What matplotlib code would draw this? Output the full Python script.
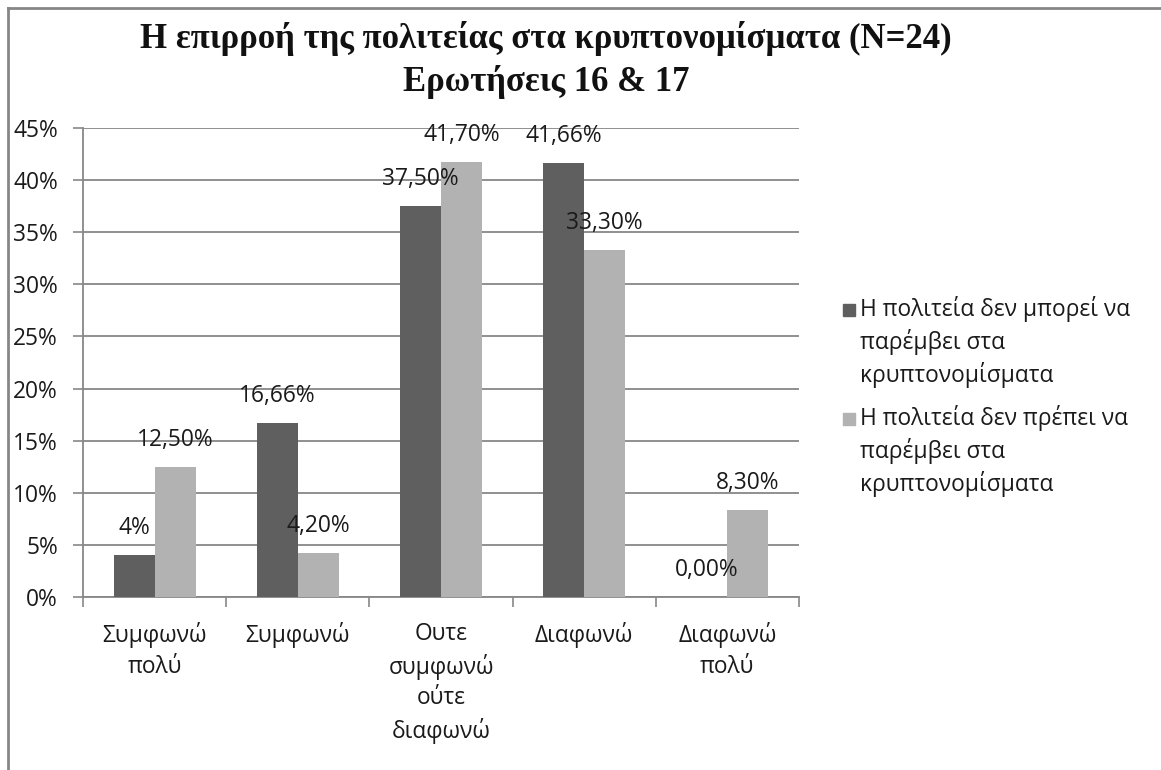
import matplotlib
matplotlib.use("Agg")
import matplotlib.pyplot as plt
from matplotlib.patches import Rectangle
from matplotlib.lines import Line2D
import numpy as np

categories = ["Συμφωνώ\nπολύ", "Συμφωνώ", "Ουτε\nσυμφωνώ\nούτε\nδιαφωνώ", "Διαφωνώ", "Διαφωνώ\nπολύ"]
series_names = ["Η πολιτεία δεν μπορεί να\nπαρέμβει στα\nκρυπτονομίσματα",
                "Η πολιτεία δεν πρέπει να\nπαρέμβει στα\nκρυπτονομίσματα"]
cannot_vals = [4.0, 16.66, 37.5, 41.66, 0.0]
should_not_vals = [12.5, 4.2, 41.7, 33.3, 8.3]
cannot_labels = ["4%", "16,66%", "37,50%", "41,66%", "0,00%"]
should_not_labels = ["12,50%", "4,20%", "41,70%", "33,30%", "8,30%"]
yticks = [0, 5, 10, 15, 20, 25, 30, 35, 40, 45]
ytick_labels = [f"{v}%" for v in yticks]
title_lines = ["Η επιρροή της πολιτείας στα κρυπτονομίσματα (N=24)", "Ερωτήσεις 16 & 17"]

dark = "#5f5f5f"
light = "#b2b2b2"
grid_c = "#878787"
txt_c = "#1a1a1a"
FS = 16.4
FONT = ["Open Sans", "DejaVu Sans"]
plt.rcParams["font.family"] = FONT

W, H = 1161, 770
fig = plt.figure(figsize=(W / 100, H / 100), dpi=100)
ax = fig.add_axes([83 / W, 1 - 597 / H, (799 - 83) / W, (597 - 128) / H])

x = np.arange(len(categories))
bw = 0.286
b1 = ax.bar(x - bw / 2, cannot_vals, bw, color=dark, zorder=3)
b2 = ax.bar(x + bw / 2, should_not_vals, bw, color=light, zorder=3)

for bars, labs in ((b1, cannot_labels), (b2, should_not_labels)):
    for r, lab in zip(bars, labs):
        ax.annotate(lab, (r.get_x() + r.get_width() / 2, r.get_height()),
                    xytext=(0, 19.5), textcoords="offset points",
                    ha="center", va="center", fontsize=FS, color=txt_c, zorder=5)

ax.set_xlim(-0.5, len(categories) - 0.5)
ax.set_ylim(0, 45)
ax.set_yticks(yticks)
ax.set_yticklabels(ytick_labels, fontsize=FS, color=txt_c)
ax.yaxis.grid(True, color=grid_c, linewidth=1.3, zorder=0)
ax.tick_params(axis="y", length=7, width=1.2, color=grid_c, pad=11)

ax.set_xticks(x)
ax.set_xticklabels(categories, fontsize=FS, color=txt_c, linespacing=1.38)
ax.set_xticks(np.arange(-0.5, len(categories)), minor=True)
ax.tick_params(axis="x", which="major", length=0, pad=18)
ax.tick_params(axis="x", which="minor", length=7, width=1.2, color=grid_c)

for s in ("top", "right"):
    ax.spines[s].set_visible(False)
for s in ("left", "bottom"):
    ax.spines[s].set_color(grid_c)
    ax.spines[s].set_linewidth(1.3)

for line, base in zip(title_lines, (48, 91)):
    fig.text(546 / W, 1 - base / H, line, ha="center", va="baseline",
             fontsize=25, fontweight="bold", family=["Liberation Serif", "DejaVu Serif"],
             color="#111111")

# legend (manual layout)
leg_base = [318, 427]
for name, col, lb in zip(series_names, (dark, light), leg_base):
    fig.patches.append(Rectangle((843 / W, 1 - (lb - 2) / H), 12 / W, 12 / H,
                                 transform=fig.transFigure, color=col))
    fig.text(860 / W, 1 - (lb - 22) / H, name, ha="left", va="top",
             fontsize=FS, color=txt_c, linespacing=1.36)

# chart border (top and left)
fig.add_artist(Line2D([8 / W, 1], [1 - 8 / H, 1 - 8 / H], transform=fig.transFigure,
                      color="#868686", linewidth=2))
fig.add_artist(Line2D([8 / W, 8 / W], [0, 1 - 8 / H], transform=fig.transFigure,
                      color="#868686", linewidth=2))

fig.savefig("out.png", dpi=100)
